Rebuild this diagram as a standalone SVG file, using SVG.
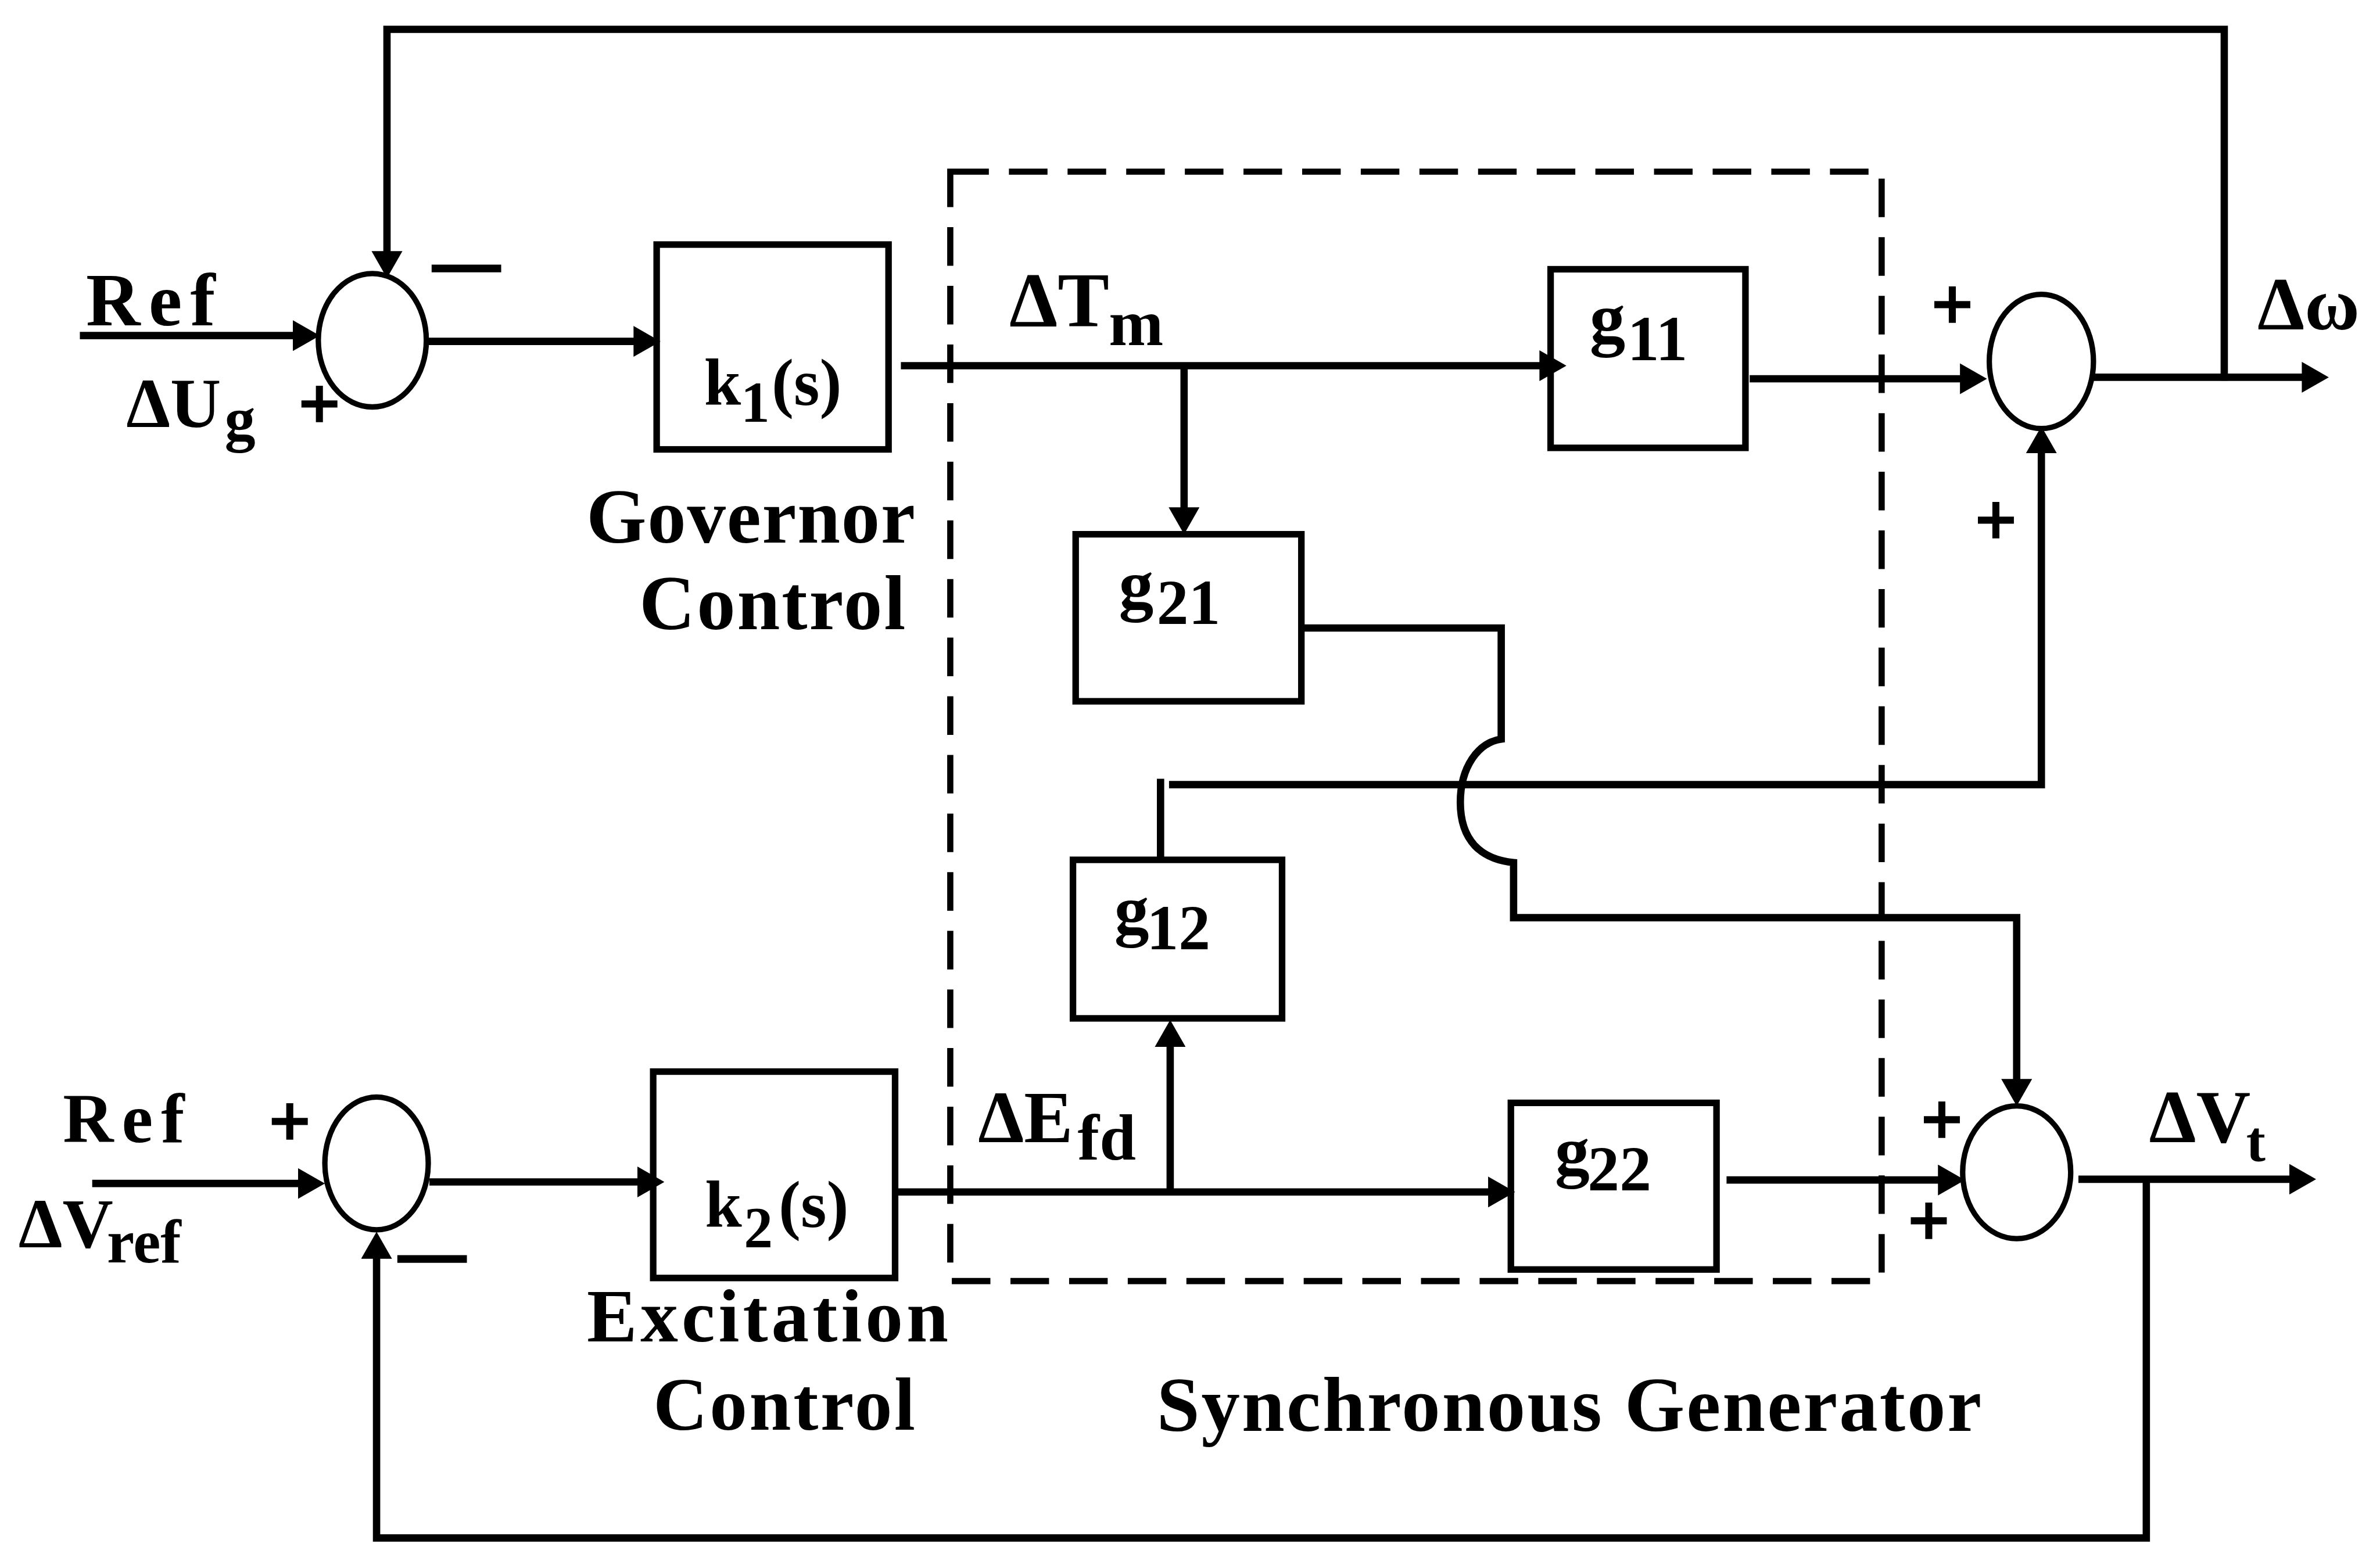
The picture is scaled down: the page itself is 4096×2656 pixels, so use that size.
<svg xmlns="http://www.w3.org/2000/svg" width="4096" height="2656" viewBox="0 0 4096 2656">
<defs>
<style>
.ln{fill:none;stroke:#000;stroke-width:19;stroke-linejoin:miter;stroke-linecap:butt}
.bx{fill:none;stroke:#000;stroke-width:17}
.sj{fill:none;stroke:#000;stroke-width:14}
.ds{fill:none;stroke:#000;stroke-width:16;stroke-dasharray:100 52}
.t{font-family:"Liberation Serif","Times New Roman",serif;font-weight:bold;fill:#000}
.pm{font-family:"Liberation Serif","Times New Roman",serif;font-weight:bold;fill:#000;stroke:#000;stroke-width:5;font-size:190px;text-anchor:middle}
.mn{font-family:"Liberation Serif","Times New Roman",serif;font-weight:bold;fill:#000;stroke:#000;stroke-width:8;font-size:170px;text-anchor:middle}
</style>
<marker id="ar" viewBox="0 0 70 80" refX="40" refY="40" markerWidth="70" markerHeight="80" orient="auto" markerUnits="userSpaceOnUse">
<path d="M0,0 L70,40 L0,80 Z" fill="#000"/>
</marker>
</defs>
<rect x="0" y="0" width="4096" height="2656" fill="#fff"/>
<g transform="scale(0.664)">
<g id="connectors">
<path class="ln" d="M5765,987 V76 H1003 V691" marker-end="url(#ar)"/>
<path class="ln" d="M207,870 H799" marker-end="url(#ar)"/>
<path class="ln" d="M1103,885 H1682" marker-end="url(#ar)"/>
<path class="ln" d="M2335,948 H4030" marker-end="url(#ar)"/>
<path class="ln" d="M3069,948 V1355" marker-end="url(#ar)"/>
<path class="ln" d="M4535,982 H5120" marker-end="url(#ar)"/>
<path class="ln" d="M5427,978 H6006" marker-end="url(#ar)"/>
<path class="ln" d="M3373,1628 H3891 V1916 C3830,1925 3785,1990 3785,2080 C3785,2180 3840,2228 3923,2236 V2379 H5227 V2837" marker-end="url(#ar)"/>
<path class="ln" d="M3008,2229 V2019"/>
<path class="ln" d="M3030,2034 H5291 V1135" marker-end="url(#ar)"/>
<path class="ln" d="M2320,3090 H3897" marker-end="url(#ar)"/>
<path class="ln" d="M3033,3090 V2674" marker-end="url(#ar)"/>
<path class="ln" d="M4475,3059 H5063" marker-end="url(#ar)"/>
<path class="ln" d="M5387,3057 H5973" marker-end="url(#ar)"/>
<path class="ln" d="M5563,3057 V3987 H976 V3223" marker-end="url(#ar)"/>
<path class="ln" d="M239,3068 H812" marker-end="url(#ar)"/>
<path class="ln" d="M1113,3064 H1692" marker-end="url(#ar)"/>
</g>
<g id="synchronous-generator">
<rect class="ds" x="2463" y="445" width="2414" height="2876"/>
<text class="t" x="2998" y="3710" font-size="200" textLength="2138">Synchronous Generator</text>
</g>
<g id="sum1">
<ellipse class="sj" cx="965" cy="882" rx="140" ry="173"/>
<text class="mn" x="1209" y="735">—</text>
<text class="pm" x="828" y="1111">+</text>
</g>
<g id="sum2">
<ellipse class="sj" cx="5291" cy="937" rx="135" ry="174"/>
<text class="pm" x="5060" y="854">+</text>
<text class="pm" x="5173" y="1413">+</text>
</g>
<g id="sum3">
<ellipse class="sj" cx="976" cy="3016" rx="134" ry="172"/>
<text class="pm" x="751" y="2971">+</text>
<text class="mn" x="1120" y="3303">—</text>
</g>
<g id="sum4">
<ellipse class="sj" cx="5227" cy="3039" rx="140" ry="172"/>
<text class="pm" x="5033" y="2967">+</text>
<text class="pm" x="4999" y="3229">+</text>
</g>
<g id="k1">
<rect class="bx" x="1702" y="634" width="601" height="531"/>
<text class="t" x="1825" y="1049" font-size="172">k<tspan x="1920" y="1094" font-size="150">1</tspan><tspan x="2000" y="1049">(s)</tspan></text>
<text class="t" x="1520" y="1406" font-size="200" textLength="852">Governor</text>
<text class="t" x="1657" y="1631" font-size="200" textLength="690">Control</text>
</g>
<g id="k2">
<rect class="bx" x="1693" y="2778" width="627" height="535"/>
<text class="t" x="1827" y="3180" font-size="172">k<tspan x="1928" y="3232" font-size="150">2</tspan><tspan x="2018" y="3180">(s)</tspan></text>
<text class="t" x="1521" y="3478" font-size="195" textLength="937">Excitation</text>
<text class="t" x="1693" y="3706" font-size="195" textLength="679">Control</text>
</g>
<g id="g11">
<rect class="bx" x="4019" y="698" width="505" height="463"/>
<text class="t" x="4120" y="887" font-size="185">g<tspan x="4218" y="933" font-size="165">11</tspan></text>
</g>
<g id="g21">
<rect class="bx" x="2788" y="1385" width="585" height="433"/>
<text class="t" x="2900" y="1575" font-size="180">g<tspan x="2998" y="1617" font-size="165">21</tspan></text>
</g>
<g id="g12">
<rect class="bx" x="2781" y="2229" width="542" height="411"/>
<text class="t" x="2888" y="2419" font-size="180">g<tspan x="2972" y="2461" font-size="165">12</tspan></text>
</g>
<g id="g22">
<rect class="bx" x="3916" y="2859" width="533" height="432"/>
<text class="t" x="4030" y="3044" font-size="180">g<tspan x="4115" y="3086" font-size="165">22</tspan></text>
</g>
<g id="labels">
<text class="t" x="223" y="844" font-size="195" textLength="335">Ref</text>
<text class="t" x="327" y="1107" font-size="182">ΔU<tspan x="582" y="1140" font-size="160">g</tspan></text>
<text class="t" x="163" y="2961" font-size="182" textLength="315">Ref</text>
<text class="t" x="48" y="3233" font-size="182">ΔV<tspan x="277" y="3273" font-size="160">ref</tspan></text>
<text class="t" x="2616" y="846" font-size="200">ΔT</text>
<text class="t" x="2874" y="895" font-size="170">m</text>
<text class="t" x="2535" y="2961" font-size="190">ΔE<tspan x="2793" y="3006" font-size="170">fd</tspan></text>
<text class="t" x="5851" y="854" font-size="195">Δω</text>
<text class="t" x="5570" y="2961" font-size="195">ΔV<tspan x="5822" y="3010" font-size="150">t</tspan></text>
</g>
</g>
</svg>
